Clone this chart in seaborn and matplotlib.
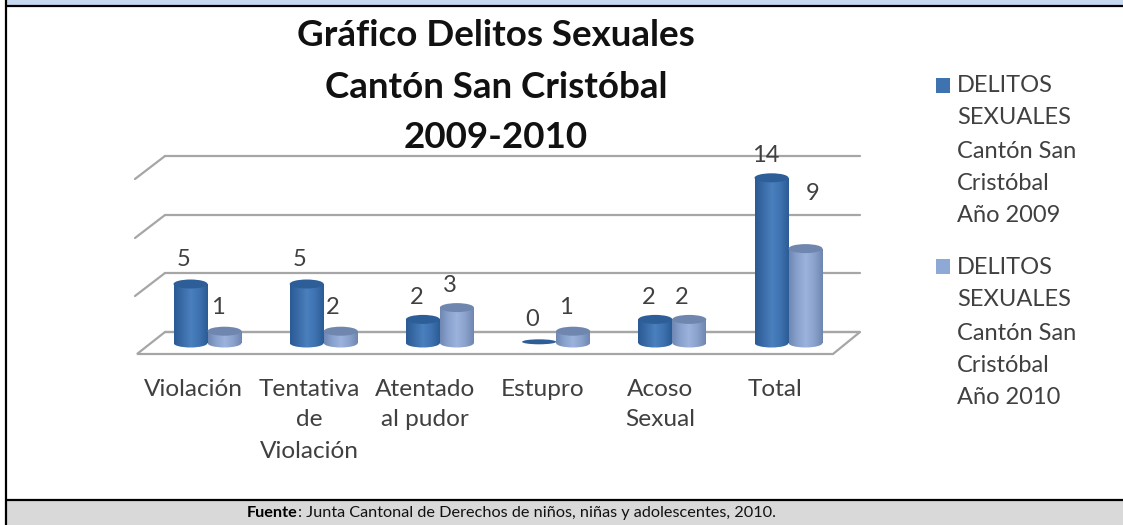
import numpy as np
import pandas as pd
import matplotlib
matplotlib.use("Agg")
import matplotlib.pyplot as plt
from matplotlib.patches import Ellipse, Rectangle, Polygon
from matplotlib.colors import to_rgb
import seaborn as sns

categories = ["Violación", "Tentativa\nde\nViolación", "Atentado\nal pudor", "Estupro", "Acoso\nSexual", "Total"]
series_names = ["DELITOS\nSEXUALES\nCantón San\nCristóbal\nAño 2009",
                "DELITOS\nSEXUALES\nCantón San\nCristóbal\nAño 2010"]
title_lines = ["Gráfico Delitos Sexuales", "Cantón San Cristóbal", "2009-2010"]
labels_2009 = [5, 5, 2, 0, 2, 14]
labels_2010 = [1, 2, 3, 1, 2, 9]
# heights as drawn in the picture (the source bars differ from two of its labels)
heights_2009 = [5, 5, 2, 0, 2, 14]
heights_2010 = [1, 1, 3, 1, 2, 8]

sns.set_theme(style="white")
plt.rcParams["font.family"] = ["Lato", "DejaVu Sans"]
W, H = 1123, 525
fig = plt.figure(figsize=(W / 100, H / 100), dpi=100, facecolor="white")


def pixel_axes(z):
    a = fig.add_axes([0, 0, 1, 1], zorder=z)
    a.set_xlim(0, W)
    a.set_ylim(H, 0)
    a.axis("off")
    return a


# ---- layer 1: page frame and 3D-look walls, behind the bars
under = pixel_axes(1)
under.add_patch(Rectangle((6, 0), W, 5, fc="#C6D9F1", ec="none"))
under.add_patch(Rectangle((6, 500), W, 25, fc="#D9D9D9", ec="none"))
for xs, ys in [([6, W], [5.5, 5.5]), ([6, W], [500, 500]), ([6, 6], [0, H])]:
    under.plot(xs, ys, color="black", lw=1.6, solid_capstyle="butt")
GRID = "#A6A6A6"
for i, y in enumerate([332, 273, 215, 156]):
    under.plot([165, 860], [y, y], color=GRID, lw=1.6)
    if i:
        under.plot([135, 165], [y + 23, y], color=GRID, lw=1.6)
under.add_patch(Polygon([(137, 354), (165, 332), (860, 332), (833, 354)], closed=True,
                        fc="none", ec=GRID, lw=1.6))

# ---- layer 2: bars. y=0 at pixel 343, 11.8 px per unit
PX = 11.8
top_px, zero_px, bottom_px = 100, 343, 365
left_px, right_px = 130, 870
step, x0 = 116.2, 207.5
ax = fig.add_axes([left_px / W, 1 - bottom_px / H, (right_px - left_px) / W, (bottom_px - top_px) / H], zorder=2)
ax.patch.set_alpha(0)
df = pd.DataFrame({
    "cat": categories * 2,
    "val": heights_2009 + heights_2010,
    "serie": [series_names[0]] * 6 + [series_names[1]] * 6,
})
C09, C10 = "#3F73B0", "#8FA6D0"
sns.barplot(data=df, x="cat", y="val", hue="serie", palette=[C09, C10], width=0.585, gap=0,
            legend=False, ax=ax, saturation=1)
ax.axis("off")

ramps = {
    0: ["#2B5B94", "#3A6CA8", "#4A80BE", "#3E72B0", "#2C5C96"],
    1: ["#7088B4", "#8AA2CE", "#9CB3DD", "#8BA2CC", "#6F86B0"],
}
tops = {0: "#2E5E98", 1: "#6F87AE"}


def grad(color_list, extent, clip):
    cols = np.array([to_rgb(c) for c in color_list])
    xs = np.linspace(0, len(cols) - 1, 64)
    img = np.stack([np.interp(xs, range(len(cols)), cols[:, k]) for k in range(3)], axis=-1)[None, :, :]
    im = ax.imshow(img, extent=extent, aspect="auto", zorder=3, interpolation="bilinear")
    im.set_clip_path(clip)


ex_h = 9 / PX
for s, cont in enumerate(ax.containers):
    for p in cont:
        x, w, h = p.get_x(), p.get_width(), p.get_height()
        cx = x + w / 2
        p.set_visible(False)
        if h == 0:
            ax.add_patch(Ellipse((cx, 0.1), w, 5 / PX, fc=tops[s], ec="none", zorder=4))
            continue
        foot = Ellipse((cx, 0), w, ex_h, fc="none", ec="none")
        body = Rectangle((x, 0), w, h, fc="none", ec="none")
        ax.add_patch(foot)
        ax.add_patch(body)
        grad(ramps[s], (x, x + w, -ex_h, h), foot)
        grad(ramps[s], (x, x + w, -ex_h, h), body)
        ax.add_patch(Ellipse((cx, h), w, ex_h, fc=tops[s], ec="none", zorder=4))
ax.set_xlim((left_px - x0) / step, (right_px - x0) / step)
ax.set_ylim(-(bottom_px - zero_px) / PX, (zero_px - top_px) / PX)

# ---- layer 3: all text and the legend
bg = pixel_axes(3)
TXT = "#404040"
lab_pos_09 = [(184, 260), (300, 260), (417, 297), (532, 319), (649, 297), (766, 156)]
lab_pos_10 = [(218, 308), (333, 308), (450, 285), (566, 308), (682, 297), (813, 193)]
for pos, vals in [(lab_pos_09, labels_2009), (lab_pos_10, labels_2010)]:
    for (x, y), v in zip(pos, vals):
        bg.text(x, y, str(v), fontsize=17, color=TXT, ha="center", va="center")

xs_cat = [193, 309, 425, 543, 660, 775]
for x, c in zip(xs_cat, categories):
    for j, line in enumerate(c.split("\n")):
        bg.text(x, 389 + 31 * j, line, fontsize=17.6, color=TXT, ha="center", va="center")

for y, s in zip([35, 87, 138], title_lines):
    bg.text(496, y, s, fontsize=26.5, fontweight="bold", color="#111111", ha="center", va="center")

for y_sw, color, name, ys in [(86, C09, series_names[0], [85, 117, 151, 183, 216]),
                              (267, "#8EA9D6", series_names[1], [267, 299, 333, 365, 398])]:
    bg.add_patch(Rectangle((936, y_sw - 8), 14, 15, fc=color, ec="none"))
    for y, line in zip(ys, name.split("\n")):
        bg.text(957, y, line, fontsize=17, color=TXT, ha="left", va="center")

t = bg.text(247, 513, "Fuente", fontsize=11.7, fontweight="bold", ha="left", va="center", color="black")
bg.annotate(": Junta Cantonal de Derechos de niños, niñas y adolescentes, 2010.",
            xy=(1, 0.5), xycoords=t, va="center", ha="left", fontsize=11.7, color="#111111")

fig.savefig("out.png", dpi=100)
